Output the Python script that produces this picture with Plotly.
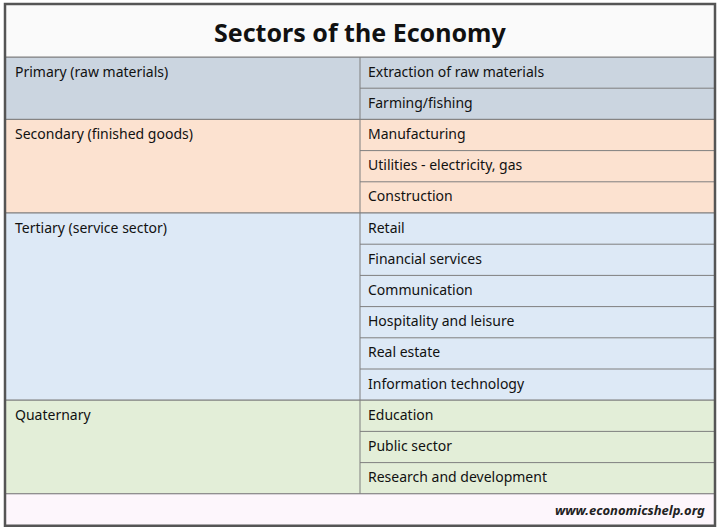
import plotly.graph_objects as go

title = "Sectors of the Economy"
sectors = ["Primary (raw materials)", "Secondary (finished goods)",
           "Tertiary (service sector)", "Quaternary"]
activities = [
    ["Extraction of raw materials", "Farming/fishing"],
    ["Manufacturing", "Utilities - electricity, gas", "Construction"],
    ["Retail", "Financial services", "Communication", "Hospitality and leisure",
     "Real estate", "Information technology"],
    ["Education", "Public sector", "Research and development"],
]
source = "www.economicshelp.org"

colors = ["#cbd5e0", "#fce2d0", "#dde9f6", "#e3eed8"]
line_col = "#7f7f7f"
font = "Noto Sans"

left, right, mid = 5, 715, 360
top, title_bot = 4, 57
row_h = 31.2
foot_h = 32

fig = go.Figure()
shapes = []
y = title_bot
for name, acts, col in zip(sectors, activities, colors):
    h = row_h * len(acts)
    shapes.append(dict(type="rect", x0=left, x1=right, y0=y, y1=y + h,
                       fillcolor=col, line=dict(color=line_col, width=1), layer="below"))
    shapes.append(dict(type="line", x0=mid, x1=mid, y0=y, y1=y + h,
                       line=dict(color=line_col, width=1)))
    fig.add_annotation(x=left + 8, y=y + 14, text=name, showarrow=False,
                       xanchor="left", yanchor="middle",
                       font=dict(family=font, size=14, color="#111"))
    for i, a in enumerate(acts):
        ry = y + i * row_h
        if i > 0:
            shapes.append(dict(type="line", x0=mid, x1=right, y0=ry, y1=ry,
                               line=dict(color=line_col, width=1)))
        fig.add_annotation(x=mid + 6, y=ry + 14, text=a, showarrow=False,
                           xanchor="left", yanchor="middle",
                           font=dict(family=font, size=14, color="#111"))
    y += h

foot_bot = y + foot_h
shapes.append(dict(type="rect", x0=left, x1=right, y0=y, y1=foot_bot,
                   fillcolor="#fdf6fc", line=dict(color=line_col, width=1), layer="below"))
shapes.append(dict(type="rect", x0=left, x1=right, y0=top, y1=title_bot,
                   fillcolor="#fafafa", line=dict(color=line_col, width=1), layer="below"))
shapes.append(dict(type="rect", x0=left, x1=right, y0=top, y1=foot_bot,
                   line=dict(color="#555", width=2.5)))

fig.add_annotation(x=(left + right) / 2, y=(top + title_bot) / 2 + 1, text="<b>" + title + "</b>",
                   showarrow=False, font=dict(family=font, size=25, color="#111"))
fig.add_annotation(x=right - 8, y=y + foot_h / 2, text="<b><i>" + source + "</i></b>",
                   showarrow=False, xanchor="right",
                   font=dict(family=font, size=13, color="#222"))

fig.update_layout(width=720, height=532, margin=dict(l=0, r=0, t=0, b=0),
                  shapes=shapes, plot_bgcolor="white", paper_bgcolor="white",
                  xaxis=dict(range=[0, 720], visible=False, fixedrange=True),
                  yaxis=dict(range=[532, 0], visible=False, fixedrange=True),
                  showlegend=False)
fig.write_html("out.html", config={"displayModeBar": False},
               post_script="document.body.style.margin='0';document.body.style.overflow='hidden';")
